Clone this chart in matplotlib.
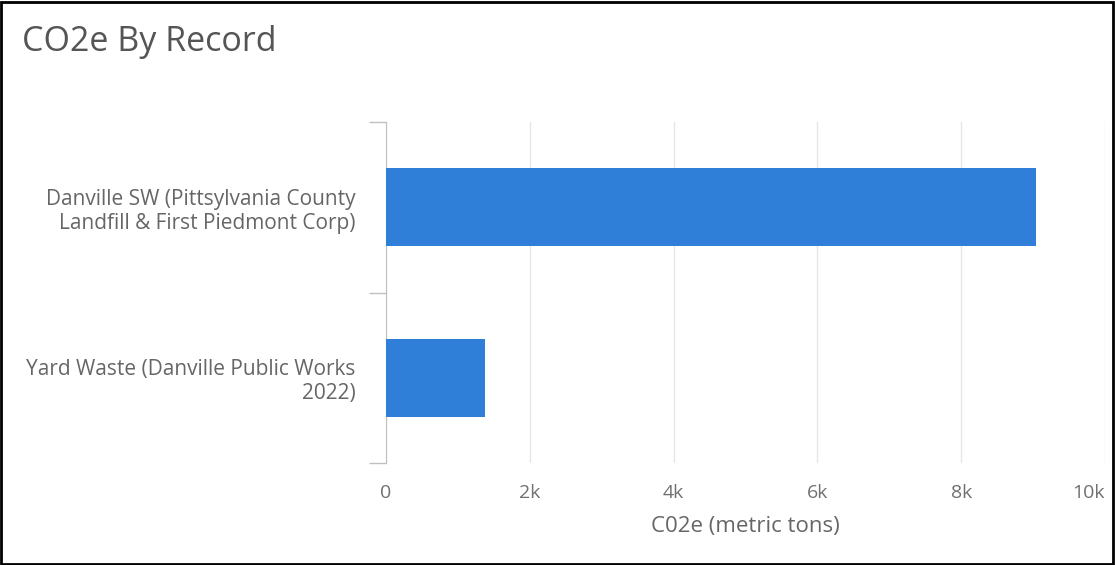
import matplotlib.pyplot as plt
import matplotlib.patches as mpatches
from matplotlib.ticker import FuncFormatter

plt.rcParams["font.family"] = ["Open Sans", "DejaVu Sans"]

CATEGORIES = [
    "Danville SW (Pittsylvania County\nLandfill & First Piedmont Corp)",
    "Yard Waste (Danville Public Works\n2022)",
]
CO2E_TONS = [9040, 1375]
X_TICKS = [0, 2000, 4000, 6000, 8000, 10000]

BAR_COLOR = "#2f7ed8"
GRID_COLOR = "#e6e6e6"
TEXT_COLOR = "#666666"


def k_fmt(v, _pos):
    return "0" if v == 0 else f"{int(v / 1000)}k"


fig = plt.figure(figsize=(11.15, 5.65), dpi=100)
ax = fig.add_axes([0.3462, 0.1805, 0.6448, 0.6035])

ypos = list(range(len(CATEGORIES)))
ax.barh(ypos, CO2E_TONS, height=0.46, color=BAR_COLOR, zorder=3)

ax.set_xlim(0, 10000)
ax.set_ylim(len(CATEGORIES) - 0.5, -0.5)
ax.set_xticks(X_TICKS)
ax.xaxis.set_major_formatter(FuncFormatter(k_fmt))
ax.grid(axis="x", color=GRID_COLOR, linewidth=1, zorder=0)

# category labels in the middle, ticks on band boundaries
ax.set_yticks(ypos)
ax.set_yticklabels(CATEGORIES, fontsize=15, color=TEXT_COLOR, linespacing=1.2)
ax.set_yticks([-0.5, 0.5, 1.5], minor=True)
ax.tick_params(axis="y", which="major", length=0, pad=22)
ax.tick_params(axis="y", which="minor", length=12, color="#c0c0c0", width=1)
ax.tick_params(axis="x", length=0, labelsize=14, labelcolor="#707070", pad=15)

# last tick label is pulled inside the chart
ax.get_xticklabels()[-1].set_horizontalalignment("right")

for s in ["top", "right", "bottom"]:
    ax.spines[s].set_visible(False)
ax.spines["left"].set_color("#c0c0c0")

ax.set_xlabel("C02e (metric tons)", fontsize=16, color=TEXT_COLOR, labelpad=10)

fig.text(0.02, 0.926, "CO2e By Record", fontsize=24.5, color="#555555", va="center", ha="left")

border = mpatches.Rectangle((0.001, 0.002), 0.997, 0.995, transform=fig.transFigure,
                            fill=False, edgecolor="black", linewidth=2)
fig.patches.append(border)

fig.savefig("out.png", dpi=100)
